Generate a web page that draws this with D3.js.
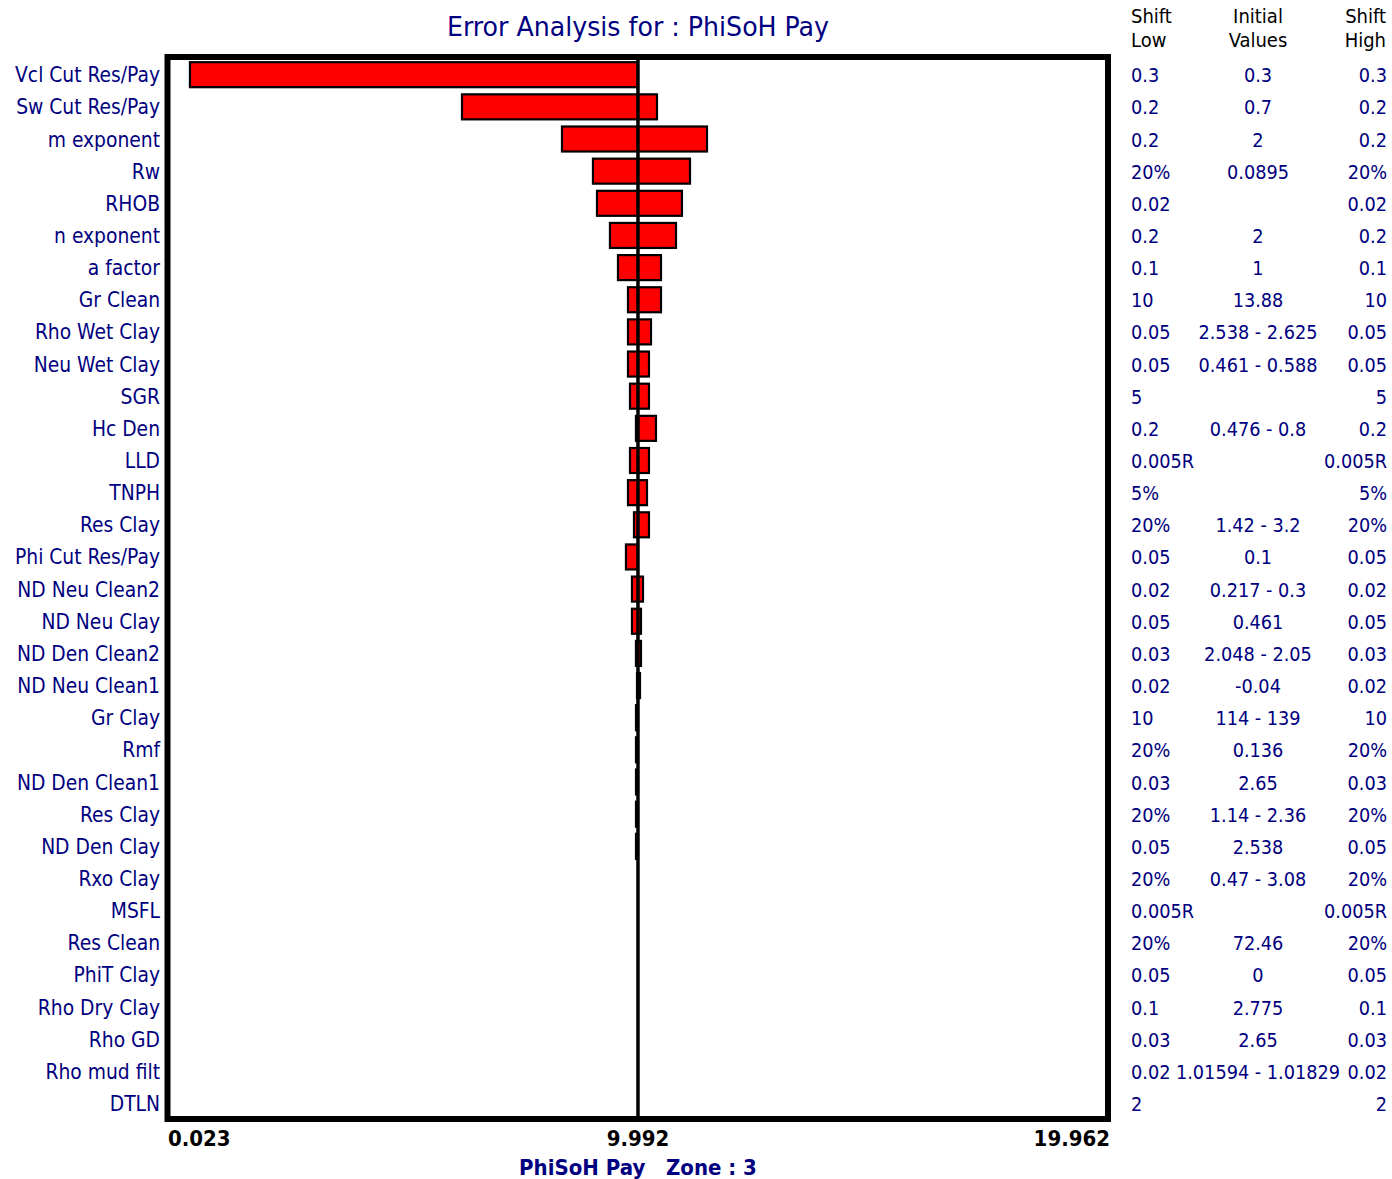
<!DOCTYPE html>
<html>
<head>
<meta charset="utf-8">
<script src="https://cdn.jsdelivr.net/npm/d3@7"></script>
<style>
  html, body { margin: 0; padding: 0; background: #fff; }
  svg { display: block; }
  text { font-family: "DejaVu Sans Condensed", "DejaVu Sans", sans-serif; font-stretch: condensed; }
</style>
</head>
<body>
<svg id="chart" width="1392" height="1179"></svg>
<script>
// Tornado chart of PhiSoH Pay sensitivity to each input parameter
const parameters = [
  "Vcl Cut Res/Pay", "Sw Cut Res/Pay", "m exponent", "Rw", "RHOB", "n exponent",
  "a factor", "Gr Clean", "Rho Wet Clay", "Neu Wet Clay", "SGR", "Hc Den", "LLD",
  "TNPH", "Res Clay", "Phi Cut Res/Pay", "ND Neu Clean2", "ND Neu Clay",
  "ND Den Clean2", "ND Neu Clean1", "Gr Clay", "Rmf", "ND Den Clean1", "Res Clay",
  "ND Den Clay", "Rxo Clay", "MSFL", "Res Clean", "PhiT Clay", "Rho Dry Clay",
  "Rho GD", "Rho mud filt", "DTLN"
];
// PhiSoH Pay result at the low / high shift of each parameter
const resultLow = [
  0.448, 6.243, 8.373, 9.033, 9.119, 9.395, 9.566, 9.779, 9.779, 9.779, 9.822,
  9.949, 9.822, 9.779, 9.907, 9.736, 9.864, 9.864, 9.949, 9.971, 9.950, 9.950,
  9.950, 9.950, 9.950, 9.992, 9.992, 9.992, 9.992, 9.992, 9.992, 9.992, 9.992
];
const resultHigh = [
  9.992, 10.397, 11.462, 11.100, 10.929, 10.802, 10.482, 10.482, 10.269, 10.226,
  10.226, 10.375, 10.226, 10.184, 10.226, 9.992, 10.099, 10.056, 10.056, 10.035,
  9.992, 9.992, 9.992, 9.992, 9.992, 9.992, 9.992, 9.992, 9.992, 9.992, 9.992,
  9.992, 9.992
];
const shiftLow = [
  "0.3", "0.2", "0.2", "20%", "0.02", "0.2", "0.1", "10", "0.05", "0.05", "5",
  "0.2", "0.005R", "5%", "20%", "0.05", "0.02", "0.05", "0.03", "0.02", "10",
  "20%", "0.03", "20%", "0.05", "20%", "0.005R", "20%", "0.05", "0.1", "0.03",
  "0.02", "2"
];
const initialValues = [
  "0.3", "0.7", "2", "0.0895", "", "2", "1", "13.88", "2.538 - 2.625",
  "0.461 - 0.588", "", "0.476 - 0.8", "", "", "1.42 - 3.2", "0.1", "0.217 - 0.3",
  "0.461", "2.048 - 2.05", "-0.04", "114 - 139", "0.136", "2.65", "1.14 - 2.36",
  "2.538", "0.47 - 3.08", "", "72.46", "0", "2.775", "2.65", "1.01594 - 1.01829", ""
];
const shiftHigh = shiftLow.slice();
const baseValue = 9.992;
const axisTicks = [0.023, 9.992, 19.962];
const axisTickLabels = ["0.023", "9.992", "19.962"];

const navy = "#000080";
const svg = d3.select("#chart");

const x = d3.scaleLinear().domain([0.023, 19.962]).range([170, 1106]);
const y = d3.scalePoint().domain(d3.range(parameters.length)).range([74.7, 1103.5]);
const barH = 25;

// Title
svg.append("text")
  .attr("x", 638).attr("y", 36)
  .attr("text-anchor", "middle")
  .attr("font-size", 26)
  .attr("fill", navy)
  .attr("textLength", 382).attr("lengthAdjust", "spacingAndGlyphs")
  .text("Error Analysis for : PhiSoH Pay");

// Plot frame
svg.append("rect")
  .attr("x", 167.5).attr("y", 57)
  .attr("width", 940.5).attr("height", 1062)
  .attr("fill", "#fff").attr("stroke", "#000").attr("stroke-width", 6);

// Bars
svg.append("g").selectAll("rect")
  .data(d3.range(parameters.length))
  .join("rect")
  .attr("x", i => x(resultLow[i]))
  .attr("y", i => y(i) - barH / 2)
  .attr("width", i => Math.max(0, x(resultHigh[i]) - x(resultLow[i])))
  .attr("height", barH)
  .attr("fill", "#ff0000")
  .attr("stroke", "#000")
  .attr("stroke-width", 2.2);

// Base value line
svg.append("line")
  .attr("x1", x(baseValue)).attr("x2", x(baseValue))
  .attr("y1", 57).attr("y2", 1119)
  .attr("stroke", "#000").attr("stroke-width", 3.5);

// Parameter labels
svg.append("g").selectAll("text")
  .data(d3.range(parameters.length))
  .join("text")
  .attr("x", 160)
  .attr("y", i => y(i) + 7.5)
  .attr("text-anchor", "end")
  .attr("font-size", 20.8)
  .attr("fill", navy)
  .text(i => parameters[i]);

// Axis tick labels
const anchors = ["start", "middle", "end"];
const tickX = [168, x(axisTicks[1]), 1110];
svg.append("g").selectAll("text")
  .data(axisTicks)
  .join("text")
  .attr("x", (d, i) => tickX[i])
  .attr("y", 1146)
  .attr("text-anchor", (d, i) => anchors[i])
  .attr("font-size", 22)
  .attr("font-weight", "bold")
  .attr("fill", "#000")
  .text((d, i) => axisTickLabels[i]);

// Axis title
svg.append("text")
  .attr("x", 638).attr("y", 1175)
  .attr("text-anchor", "middle")
  .attr("font-size", 22)
  .attr("font-weight", "bold")
  .attr("fill", navy)
  .attr("xml:space", "preserve")
  .text("PhiSoH Pay   Zone : 3");

// Table headers
const headers = [
  { lines: ["Shift", "Low"], x: 1131, anchor: "start" },
  { lines: ["Initial", "Values"], x: 1258, anchor: "middle" },
  { lines: ["Shift", "High"], x: 1386, anchor: "end" }
];
headers.forEach(h => {
  h.lines.forEach((t, k) => {
    svg.append("text")
      .attr("x", h.x).attr("y", 23 + k * 24)
      .attr("text-anchor", h.anchor)
      .attr("font-size", 20)
      .attr("fill", "#000")
      .text(t);
  });
});

// Table columns
const columns = [
  { vals: shiftLow, x: 1131, anchor: "start" },
  { vals: initialValues, x: 1258, anchor: "middle" },
  { vals: shiftHigh, x: 1387, anchor: "end" }
];
columns.forEach(c => {
  svg.append("g").selectAll("text")
    .data(d3.range(parameters.length))
    .join("text")
    .attr("x", c.x)
    .attr("y", i => y(i) + 7.5)
    .attr("text-anchor", c.anchor)
    .attr("font-size", 19.7)
    .attr("fill", navy)
    .text(i => c.vals[i]);
});
</script>
</body>
</html>
